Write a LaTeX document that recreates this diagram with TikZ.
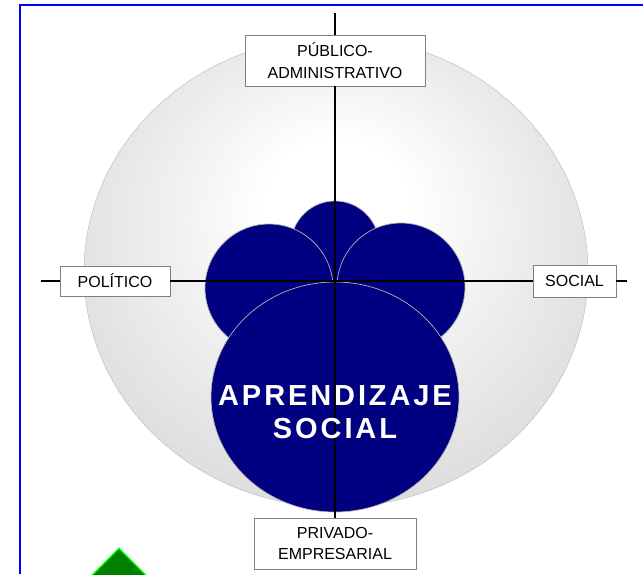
\documentclass[tikz,border=0pt]{standalone}
\usepackage{fontspec}
\setmainfont{Liberation Sans}
\usetikzlibrary{shapes.geometric}
\definecolor{navyblue}{RGB}{0,0,128}
\pgfdeclareradialshading{halo}{\pgfpoint{0bp}{8bp}}{color(0bp)=(white);color(7bp)=(white);color(30bp)=(gray!28);color(50bp)=(gray!36)}
\tikzstyle{axisbox} = [rectangle, draw=gray, fill=white, inner sep=0pt, align=center, font=\fontsize{16}{21.5}\selectfont]
\tikzstyle{lobe} = [fill=navyblue, draw=gray!60, line width=0.7pt]
\tikzstyle{axis} = [line width=1.5pt, black]
\tikzstyle{title} = [text=white, inner sep=0pt, align=center, font=\fontsize{29}{33}\selectfont\bfseries\addfontfeature{LetterSpace=10}]

\begin{document}
\begin{tikzpicture}[x=1pt, y=-1pt]
\useasboundingbox (0,0) rectangle (643,574);
\shade[shading=halo, draw=gray!55] (336,272) ellipse [x radius=252pt, y radius=235pt];
\path[lobe] (335,245) circle [radius=44pt];
\path[lobe] (269,288) circle [radius=64pt];
\path[lobe] (401,287) circle [radius=64pt];
\path[lobe] (335,397) ellipse [x radius=124pt, y radius=115pt];

\node (pub) [axisbox, minimum width=180pt, minimum height=51pt] at (335,60.5) {PÚBLICO-\\ADMINISTRATIVO};
\node (pol) [axisbox, minimum width=110pt, minimum height=30pt] at (115,281) {POLÍTICO};
\node (soc) [axisbox, minimum width=83pt, minimum height=32pt] at (574.5,281) {SOCIAL};
\node (priv) [axisbox, minimum width=162pt, minimum height=51pt] at (335,543.5) {PRIVADO-\\EMPRESARIAL};
\coordinate (vtop) at (335,13);
\coordinate (hleft) at (41,281);
\coordinate (hright) at (627,281);

\draw [axis] (vtop) -- (pub.north);
\draw [axis] (pub.south) -- (priv.north);
\draw [axis] (hleft) -- (pol.west);
\draw [axis] (pol.east) -- (soc.west);
\draw [axis] (soc.east) -- (hright);

\node (learn) [title] at (335,412) {APRENDIZAJE\\SOCIAL};
\node (mark) [diamond, fill=green!50!black, draw=green, line width=1.5pt, inner sep=0pt, minimum width=64pt, minimum height=64pt] at (119,580) {};
\draw [blue, line width=2.5pt] (20,574) -- (20,5) -- (643,5);
\end{tikzpicture}
\end{document}
